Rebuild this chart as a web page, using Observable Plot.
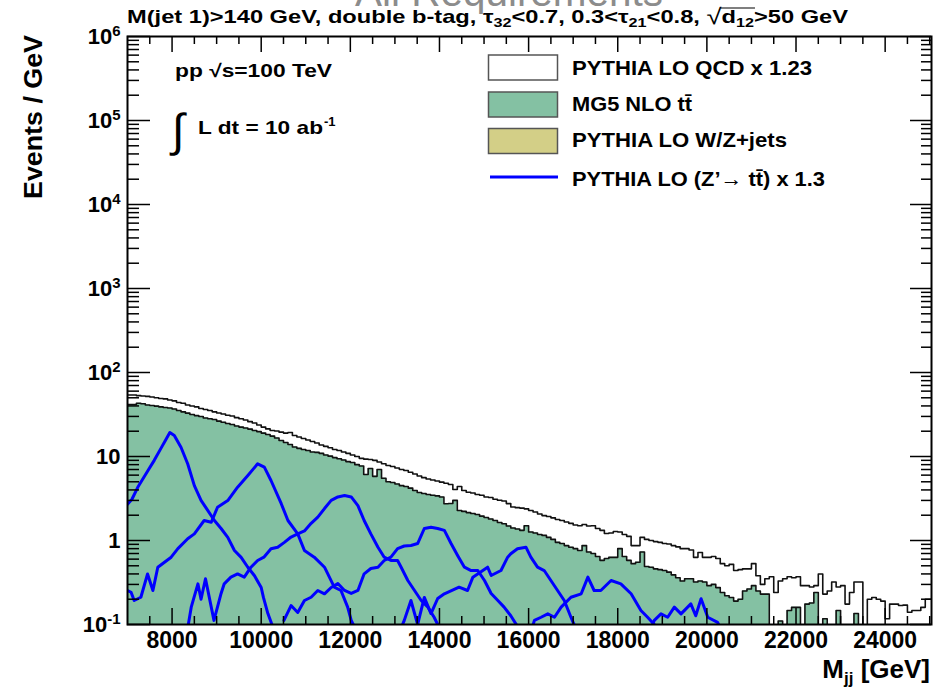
<!DOCTYPE html>
<html><head><meta charset="utf-8">
<script src="https://cdn.jsdelivr.net/npm/d3@7"></script>
<script src="https://cdn.jsdelivr.net/npm/@observablehq/plot@0.6"></script>
<style>
body{margin:0;background:#fff;}
#wrap{position:relative;width:935px;height:690px;overflow:hidden;background:#fff;}
#wrap svg{position:absolute;left:0;top:0;}
</style></head><body><div id="wrap"></div>
<script>
// ---------------- data ----------------
const binStart = 7000, binWidth = 100;   // M_jj histogram binning [GeV]
const qcdX123 = [54,54,53,52.5,52,51,50,49,48.5,47,
46,44,43,41,40,39,37.3,36.3,35.3,34,
33,32,31,30.3,29,28.2,27.2,26,25,23.7,
22.4,21.3,20.4,20.1,19.5,19,19.3,17.8,17.1,16.4,
15.7,15.1,14.5,13.7,13.2,12.7,12.1,11.8,11.3,10.9,
10.4,10,9.5,9.3,9.2,9.0,8.6,8.2,7.8,7.6,
7.3,7.0,6.8,6.5,6.2,5.85,5.6,5.4,5.25,5.1,
4.95,4.8,4.64,4.05,4.4,3.94,3.75,3.68,3.53,3.45,
3.3,3.25,3.1,3.02,2.95,2.75,2.5,2.46,2.43,2.38,
2.28,2.18,2.07,1.98,1.93,1.86,1.78,1.73,1.66,1.6,
1.53,1.5,1.55,1.49,1.5,1.39,1.32,1.21,1.23,1.28,
1.26,1.18,1.12,0.87,0.87,1.09,1.03,1.0,0.97,0.95,
0.92,0.91,0.87,0.84,0.80,0.80,0.77,0.63,0.72,0.63,
0.63,0.645,0.61,0.53,0.50,0.52,0.44,0.45,0.46,0.46,
0.53,0.38,0.30,0.35,0.37,0.24,0.33,0.35,0.37,0.36,
0.37,0.29,0.29,0.28,0.29,0.40,0.23,0.25,0.32,0.28,
0.29,0.175,0.24,0.32,0.32,0.06,0.20,0.21,0.20,0.19,
0.117,0.175,0.175,0.168,0.17,0.14,0.147,0.147,0.16,0.20,0.20];
const ttbarNLO = [41.6,41.6,43,42.5,41,40.5,39.8,39,38.3,37.8,
36.8,35.3,34,32.8,31.6,30.7,29.9,28.7,28.2,27.6,
26.4,25.6,24.7,24,23.1,22.4,21.8,21.2,20.4,19.8,
19.0,18.3,17.5,16.6,15.5,14.7,13.9,13.0,12.5,12.1,
11.8,11.3,11.2,10.9,10.4,10.1,9.7,9.4,9.1,8.7,
8.5,8.0,7.7,6.1,7.2,5.8,7.0,5.5,5.0,4.9,
4.7,4.5,4.4,4.2,3.94,3.73,3.63,3.53,3.45,3.4,
3.3,2.74,2.76,3.0,2.28,2.22,2.15,2.1,2.04,1.95,
1.88,1.8,1.73,1.64,1.58,1.49,1.41,1.37,1.32,1.5,
1.26,1.23,1.18,1.15,1.09,1.03,0.95,0.92,0.87,0.83,
0.80,0.76,0.87,0.73,0.70,0.645,0.58,0.61,0.63,0.63,
0.80,0.645,0.58,0.53,0.55,0.73,0.49,0.48,0.46,0.45,
0.44,0.42,0.39,0.36,0.33,0.35,0.35,0.32,0.33,0.32,
0.29,0.30,0.275,0.24,0.22,0.21,0.19,0.20,0.25,0.265,
0.29,0.25,0.23,0.23,0,0,0.11,0,0.147,0.16,
0.16,0,0.175,0.18,0.24,0,0.117,0,0,0.147,
0,0,0,0.135,0,0,0,0,0,0,
0,0,0,0,0,0,0,0,0,0,0];

// Z' -> ttbar signal curves (mass [GeV], events/GeV)
const zp8000M  = [7000,7100,7230,7460,7600,7750,7850,7950,8050,8200,8350,8500,8650,8800,8950,9100,9250,9400,9550,9700,9850,10000,10050,10150,10250,10350];
const zp8000V  = [2.7,3.1,4.3,6.8,9.0,12.5,15.5,19.3,17.8,12.9,8.2,4.5,3.0,2.28,1.73,1.39,1.09,0.76,0.63,0.48,0.38,0.276,0.21,0.135,0.097,0.07];
const zp10000M = [7000,7080,7150,7300,7450,7570,7680,7980,8130,8350,8500,8720,8880,9020,9250,9470,9700,9920,10070,10220,10450,10600,10820,10970,11190,11420,11640,11790,11940,12020,12130];
const zp10000V = [0.254,0.242,0.193,0.211,0.40,0.254,0.48,0.633,0.80,1.05,1.20,1.73,1.65,2.49,2.99,4.31,5.94,8.18,7.46,5.18,2.74,1.73,1.20,0.76,0.633,0.481,0.278,0.254,0.161,0.112,0.085];
const zp12000M = [8350,8430,8580,8650,8750,8940,9100,9170,9320,9470,9620,9770,9920,10060,10220,10370,10520,10670,10820,10970,11120,11270,11420,11570,11720,11870,12020,12170,12310,12460,12620,12760,12910,13060,13140,13290,13440,13590,13740,13880,13960,14050];
const zp12000V = [0.09,0.161,0.305,0.2,0.35,0.112,0.234,0.305,0.366,0.40,0.366,0.481,0.578,0.633,0.796,0.832,0.95,1.1,1.2,1.3,1.6,1.9,2.4,3.0,3.3,3.43,3.3,2.6,1.73,1.2,0.83,0.633,0.578,0.578,0.48,0.334,0.254,0.193,0.161,0.122,0.10,0.08];
const zp14000M = [10510,10670,10820,10970,11120,11270,11420,11570,11720,11870,12020,12170,12310,12460,12620,12760,12910,13060,13210,13360,13510,13660,13810,13960,14110,14260,14410,14560,14710,14860,15010,15160,15310,15450,15600,15750,15850];
const zp14000V = [0.112,0.168,0.139,0.193,0.211,0.254,0.232,0.276,0.308,0.254,0.234,0.254,0.401,0.464,0.481,0.578,0.633,0.80,0.86,0.872,0.92,1.39,1.44,1.39,1.32,0.92,0.66,0.481,0.439,0.439,0.334,0.234,0.193,0.161,0.127,0.095,0.07];
const zp16000M = [13100,13210,13360,13510,13660,13810,13960,14110,14440,14630,14750,15080,15160,15380,15530,15600,15750,15940,16050,16200,16350,16500,16650,16800,16950,17020,17100];
const zp16000V = [0.08,0.112,0.193,0.10,0.21,0.135,0.204,0.232,0.278,0.254,0.366,0.481,0.383,0.439,0.633,0.695,0.796,0.832,0.633,0.481,0.439,0.334,0.254,0.193,0.122,0.10,0.08];
const zp18000M = [16050,16130,16280,16430,16580,16730,16950,17180,17330,17470,17620,17850,18070,18300,18520,18670,18820,18970];
const zp18000V = [0.08,0.112,0.122,0.134,0.122,0.161,0.211,0.232,0.366,0.254,0.254,0.334,0.305,0.232,0.147,0.122,0.10,0.085];
const zp20000M = [18700,18820,18970,19120,19270,19420,19640,19750,19870,20020,20240,20310,20400];
const zp20000V = [0.08,0.112,0.134,0.122,0.161,0.134,0.176,0.127,0.203,0.122,0.106,0.09,0.07];

const xTickValues = [8000,10000,12000,14000,16000,18000,20000,22000,24000];
const xTickLabels = ["8000","10000","12000","14000","16000","18000","20000","22000","24000"];
const yTickValues = [0.1,1,10,100,1e3,1e4,1e5,1e6];
const yTickLabels = ["10^-1","1","10","10^2","10^3","10^4","10^5","10^6"];

// ---------------- build ----------------
const W = 935, H = 690, mL = 127, mR = 4, mT = 36, mB = 66;
const plotW = W - mL - mR, plotH = H - mT - mB;
const floorV = 0.01; // empty bins sit below the axis

function stepPoints(vals) {
  const pts = vals.map((v, i) => ({m: binStart + i * binWidth, v: v > 0 ? v : floorV}));
  pts.push({m: binStart + vals.length * binWidth, v: pts[pts.length - 1].v});
  return pts;
}
const qcdPts = stepPoints(qcdX123);
const ttPts = stepPoints(ttbarNLO);

const signals = [
  [zp8000M, zp8000V], [zp10000M, zp10000V], [zp12000M, zp12000V], [zp14000M, zp14000V],
  [zp16000M, zp16000V], [zp18000M, zp18000V], [zp20000M, zp20000V]
].flatMap(([ms, vs], k) => ms.map((m, i) => ({m, v: vs[i], k})));

const xMinor = d3.range(7500, 25001, 500).filter(v => v % 2000 !== 0);
const yMinor = d3.range(-1, 6).flatMap(e => d3.range(2, 10).map(k => k * Math.pow(10, e)));

const GREEN = "#84c1a3", BLUE = "#0000ff";

const chart = Plot.plot({
  width: W, height: H,
  marginLeft: mL, marginRight: mR, marginTop: mT, marginBottom: mB,
  x: {domain: [7000, 25040]},
  y: {type: "log", domain: [0.1, 1e6]},
  style: {fontFamily: "'Liberation Sans', Arial, Helvetica, sans-serif", fontSize: "22px", fontWeight: "bold", background: "white", color: "black"},
  marks: [
    Plot.areaY(ttPts, {x: "m", y1: floorV, y2: "v", curve: "step-after", fill: GREEN, clip: true}),
    Plot.lineY(qcdPts, {x: "m", y: "v", curve: "step-after", stroke: "#111", strokeWidth: 1.6, clip: true}),
    Plot.lineY(ttPts, {x: "m", y: "v", curve: "step-after", stroke: "#111", strokeWidth: 1.6, clip: true}),
    Plot.line(signals, {x: "m", y: "v", z: "k", stroke: BLUE, strokeWidth: 3, clip: true}),
    // inward ROOT-style ticks
    Plot.ruleX(xTickValues, {x: d => d, insetTop: plotH - 16, stroke: "black", strokeWidth: 1.5}),
    Plot.ruleX(xTickValues, {x: d => d, insetBottom: plotH - 16, stroke: "black", strokeWidth: 1.5}),
    Plot.ruleX(xMinor, {x: d => d, insetTop: plotH - 8, stroke: "black", strokeWidth: 1.5}),
    Plot.ruleX(xMinor, {x: d => d, insetBottom: plotH - 8, stroke: "black", strokeWidth: 1.5}),
    Plot.ruleY(yTickValues, {y: d => d, insetRight: plotW - 23, stroke: "black", strokeWidth: 1.5}),
    Plot.ruleY(yTickValues, {y: d => d, insetLeft: plotW - 21, stroke: "black", strokeWidth: 1.5}),
    Plot.ruleY(yMinor, {y: d => d, insetRight: plotW - 12, stroke: "black", strokeWidth: 1.5}),
    Plot.ruleY(yMinor, {y: d => d, insetLeft: plotW - 10, stroke: "black", strokeWidth: 1.5}),
    Plot.frame({stroke: "black", strokeWidth: 2}),
    Plot.axisX(xTickValues, {tickSize: 0, tickPadding: 7, label: null, fontSize: 23,
      tickFormat: d => xTickLabels[xTickValues.indexOf(d)]}),
    Plot.axisY(yTickValues, {tickSize: 0, tickPadding: 7, label: null, fontSize: 22,
      tickFormat: d => yTickLabels[yTickValues.indexOf(d)]})
  ]
});
document.getElementById("wrap").appendChild(chart);

// superscripts for y tick labels
d3.select(chart).selectAll('g[aria-label="y-axis tick label"] text').each(function() {
  const t = this.textContent;
  const p = t.split("^");
  if (p.length === 2) {
    const sel = d3.select(this);
    sel.text(null);
    sel.append("tspan").text(p[0]);
    sel.append("tspan").attr("dy", "-0.5em").attr("font-size", "0.68em").text(p[1]);
  }
});

// ---------------- annotations overlay ----------------
const FONT = "'Liberation Sans', Arial, Helvetica, sans-serif";
const ov = `
<svg xmlns="http://www.w3.org/2000/svg" width="${W}" height="${H}" font-family="${FONT}" style="pointer-events:none">
  <text x="509" y="6" text-anchor="middle" font-size="40" fill="#8c8c8c" textLength="308" lengthAdjust="spacingAndGlyphs">All Requirements</text>
  <text x="127" y="23" font-size="19" font-weight="bold" fill="#000" textLength="721" lengthAdjust="spacingAndGlyphs">M(jet 1)&gt;140 GeV, double b-tag, τ<tspan font-size="13" dy="4">32</tspan><tspan dy="-4">&lt;0.7, 0.3&lt;τ</tspan><tspan font-size="13" dy="4">21</tspan><tspan dy="-4">&lt;0.8, </tspan><tspan font-size="22" font-weight="normal" dy="1">√</tspan><tspan id="sqa" dy="-1">d</tspan><tspan id="sqb" font-size="13" dy="4">12</tspan><tspan dy="-4">&gt;50 GeV</tspan></text>
  <text x="41.5" y="35" transform="rotate(-90 41.5 35)" text-anchor="end" font-size="26" font-weight="bold" textLength="164" lengthAdjust="spacingAndGlyphs">Events / GeV</text>
  <text x="930" y="678" text-anchor="end" font-size="26" font-weight="bold">M<tspan font-size="17" dy="6">jj</tspan><tspan dy="-6"> [GeV]</tspan></text>
  <text x="175" y="77" font-size="18" font-weight="bold" textLength="157" lengthAdjust="spacingAndGlyphs">pp  √s=100 TeV</text>
  <text x="172" y="146" font-size="46" font-weight="normal">∫</text>
  <text x="198" y="134" font-size="19" font-weight="bold" textLength="125" lengthAdjust="spacingAndGlyphs">L dt =  10 ab</text>
  <text x="324" y="126" font-size="13" font-weight="bold">-1</text>
  <rect x="488.5" y="55" width="69" height="25" fill="white" stroke="#555" stroke-width="1.5"/>
  <rect x="488.5" y="92" width="69" height="25" fill="${GREEN}" stroke="#555" stroke-width="1.5"/>
  <rect x="488.5" y="128.5" width="69" height="25" fill="#d3cf87" stroke="#555" stroke-width="1.5"/>
  <line x1="490" y1="177" x2="558" y2="177" stroke="${BLUE}" stroke-width="3"/>
  <g font-size="21" font-weight="bold" fill="#000">
    <text x="572" y="75" textLength="240" lengthAdjust="spacingAndGlyphs">PYTHIA LO QCD x 1.23</text>
    <text x="572" y="111" textLength="120" lengthAdjust="spacingAndGlyphs">MG5 NLO tt̄</text>
    <text x="572" y="147" textLength="215" lengthAdjust="spacingAndGlyphs">PYTHIA LO W/Z+jets</text>
    <text x="572" y="186" textLength="253" lengthAdjust="spacingAndGlyphs">PYTHIA LO (Z’→ tt̄) x 1.3</text>
  </g>
</svg>`;
document.getElementById("wrap").insertAdjacentHTML("beforeend", ov);
// radical bar over d12
try {
  const ovs = document.querySelectorAll("#wrap svg")[1];
  const a = ovs.querySelector("#sqa").getBBox(), b = ovs.querySelector("#sqb").getBBox();
  const ln = document.createElementNS("http://www.w3.org/2000/svg", "line");
  ln.setAttribute("x1", a.x - 1); ln.setAttribute("x2", b.x + b.width + 1);
  ln.setAttribute("y1", a.y + 2); ln.setAttribute("y2", a.y + 2);
  ln.setAttribute("stroke", "#000"); ln.setAttribute("stroke-width", "1.2");
  ovs.appendChild(ln);
} catch (e) {}
</script>
</body></html>
